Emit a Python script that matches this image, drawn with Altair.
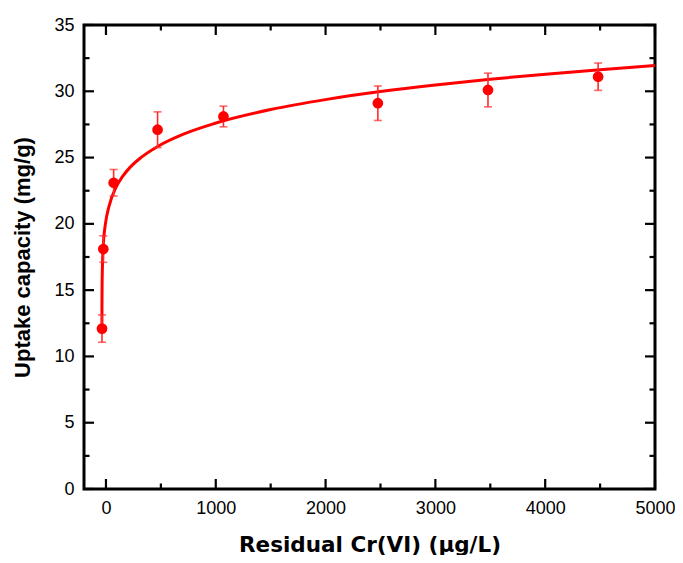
import altair as alt
import pandas as pd

# measured points
x_pts = [-36, -24, 70, 470, 1070, 2476, 3479, 4482]
y_pts = [12.1, 18.1, 23.1, 27.1, 28.1, 29.1, 30.1, 31.1]
err = [1.03, 1.0, 1.0, 1.35, 0.78, 1.3, 1.27, 1.03]

# fitted curve
fit_x = [-36.9, -36.5, -36, -35, -33, -29, -21, -5, 27, 91, 150, 219, 320, 475,
         700, 987, 1500, 2011, 2500, 3000, 3500, 4059, 4500, 5000]
fit_y = [12.0, 13.6, 14.5, 15.5, 16.5, 17.6, 18.8, 20.0, 21.3, 22.76, 23.56, 24.26,
         25.01, 25.86, 26.75, 27.57, 28.62, 29.39, 29.98, 30.48, 30.91, 31.33,
         31.63, 31.94]

x_major = [0, 1000, 2000, 3000, 4000, 5000]
x_minor = [500, 1500, 2500, 3500, 4500]
y_major = [0, 5, 10, 15, 20, 25, 30, 35]
y_minor = [2.5, 7.5, 12.5, 17.5, 22.5, 27.5, 32.5]

W, H = 571, 464
FONT = "Liberation Sans"

pts = pd.DataFrame({"x": x_pts, "y": y_pts,
                    "lo": [a - b for a, b in zip(y_pts, err)],
                    "hi": [a + b for a, b in zip(y_pts, err)]})
fit = pd.DataFrame({"x": fit_x, "y": fit_y})

xs = alt.Scale(domain=[-200, 5000], nice=False, zero=False)
ys = alt.Scale(domain=[0, 35], nice=False)

xaxis = alt.Axis(values=x_major, format="d", ticks=False, domain=False, grid=False,
                 labelFontSize=18, labelColor="black", labelFont=FONT,
                 labelPadding=10, title="Residual Cr(VI) (μg/L)",
                 titleFontSize=21.5, titleFont="DejaVu Sans", titleFontWeight="bold",
                 titleColor="black", titlePadding=17, labelFlush=False)
yaxis = alt.Axis(values=y_major, format="d", ticks=False, domain=False, grid=False,
                 labelFontSize=18, labelColor="black", labelFont=FONT,
                 labelPadding=10, title="Uptake capacity (mg/g)",
                 titleFontSize=22, titleFont=FONT, titleFontWeight="bold",
                 titleColor="black", titlePadding=19, labelFlush=False)

curve = alt.Chart(fit).mark_line(color="#ff0000", strokeWidth=3,
                                 interpolate="monotone").encode(
    x=alt.X("x:Q", scale=xs, axis=xaxis),
    y=alt.Y("y:Q", scale=ys, axis=yaxis))

ebar = alt.Chart(pts).mark_rule(color="#ff2a2a", strokeWidth=1.6).encode(
    x=alt.X("x:Q", scale=xs), y=alt.Y("lo:Q", scale=ys), y2="hi:Q")
cap_hi = alt.Chart(pts).mark_tick(color="#ff2a2a", thickness=1.6, size=8,
                                  orient="horizontal").encode(
    x=alt.X("x:Q", scale=xs), y=alt.Y("hi:Q", scale=ys))
cap_lo = alt.Chart(pts).mark_tick(color="#ff2a2a", thickness=1.6, size=8,
                                  orient="horizontal").encode(
    x=alt.X("x:Q", scale=xs), y=alt.Y("lo:Q", scale=ys))
dots = alt.Chart(pts).mark_circle(color="#ff0000", opacity=1, size=115).encode(
    x=alt.X("x:Q", scale=xs), y=alt.Y("y:Q", scale=ys))

def xticks(vals, length):
    df = pd.DataFrame({"v": vals})
    b = alt.Chart(df).mark_rule(color="black", strokeWidth=2.2).encode(
        x=alt.X("v:Q", scale=xs), y=alt.value(H), y2=alt.value(H - length))
    t = alt.Chart(df).mark_rule(color="black", strokeWidth=2.2).encode(
        x=alt.X("v:Q", scale=xs), y=alt.value(0), y2=alt.value(length))
    return [b, t]

def yticks(vals, length):
    df = pd.DataFrame({"v": vals})
    l = alt.Chart(df).mark_rule(color="black", strokeWidth=2.2).encode(
        y=alt.Y("v:Q", scale=ys), x=alt.value(0), x2=alt.value(length))
    r = alt.Chart(df).mark_rule(color="black", strokeWidth=2.2).encode(
        y=alt.Y("v:Q", scale=ys), x=alt.value(W), x2=alt.value(W - length))
    return [l, r]

tick_layers = xticks(x_major, 10) + xticks(x_minor, 5.5) + yticks(y_major, 10) + yticks(y_minor, 5.5)

chart = alt.layer(curve, *tick_layers, ebar, cap_hi, cap_lo, dots).properties(
    width=W, height=H,
    autosize=alt.AutoSizeParams(type="none"),
    padding={"left": 76, "top": 17, "right": 20, "bottom": 66},
).configure_view(stroke="black", strokeWidth=3)

chart.save("out.html", embed_options={"renderer": "svg", "actions": False})
